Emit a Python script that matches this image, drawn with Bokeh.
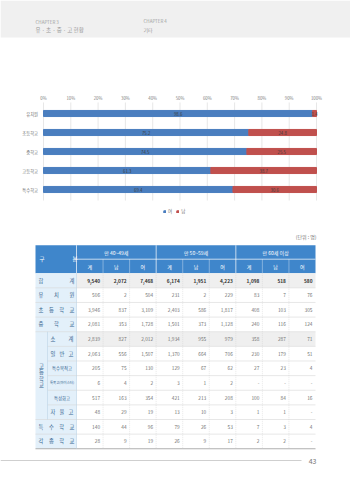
from bokeh.plotting import figure
from bokeh.models import Range1d, ColumnDataSource, Legend, LegendItem
from bokeh.embed import file_html
from bokeh.resources import INLINE
from bokeh.core.properties import value

FONT = "Noto Sans CJK KR"
BLUE = "#4a7ebf"
RED = "#c0504d"
HEAD_BLUE = "#3f86cb"
LABEL_BG = "#e3f0fa"
GRAY_ROW = "#efefef"
LABEL_COLOR = "#35658f"
NUM_COLOR = "#707070"

# ---------------- chart data ----------------
school_types = ["유치원", "초등학교", "중학교", "고등학교", "특수학교"]
female_share = [98.6, 75.2, 74.5, 61.3, 69.4]
male_share = [1.4, 24.8, 25.5, 38.7, 30.6]
x_ticks = [0, 10, 20, 30, 40, 50, 60, 70, 80, 90, 100]
legend_labels = ["여", "남"]

# ---------------- table data ----------------
age_groups = ["만 40~49세", "만 50~59세", "만 60세 이상"]
sex_headers = ["계", "남", "여"]
row_labels = ["합계", "유치원", "초등학교", "중학교", "소계", "일반고", "특수목적고",
              "특목고(마이스터)", "특성화고", "자율고", "특수학교", "각종학교"]
total_row = [9540, 2072, 7468, 6174, 1951, 4223, 1098, 518, 580]
kinder_row = [506, 2, 504, 231, 2, 229, 83, 7, 76]
elem_row = [3946, 837, 3109, 2403, 586, 1817, 408, 103, 305]
middle_row = [2081, 353, 1728, 1501, 373, 1128, 240, 116, 124]
high_sub_row = [2839, 827, 2012, 1934, 955, 979, 358, 287, 71]
general_row = [2063, 556, 1507, 1370, 664, 706, 230, 179, 51]
special_purpose_row = [205, 75, 130, 129, 67, 62, 27, 23, 4]
meister_row = [6, 4, 2, 3, 1, 2, 0, 0, 0]
vocational_row = [517, 163, 354, 421, 213, 208, 100, 84, 16]
autonomous_row = [48, 29, 19, 13, 10, 3, 1, 1, 0]
special_row = [140, 44, 96, 79, 26, 53, 7, 3, 4]
misc_row = [28, 9, 19, 26, 9, 17, 2, 2, 0]
table_rows = [total_row, kinder_row, elem_row, middle_row, high_sub_row, general_row,
              special_purpose_row, meister_row, vocational_row, autonomous_row,
              special_row, misc_row]
high_group_label = "고등학교"
unit_label = "(단위 : 명)"
page_number = "43"

W, H = 350, 480
p = figure(width=W, height=H, x_range=Range1d(0, W), y_range=Range1d(H, 0),
           output_backend="svg", toolbar_location=None)
p.axis.visible = False
p.grid.visible = False
p.outline_line_color = None
p.min_border = 0

# chart scales: percent on x, category index on y
PX0, PX100 = 43.0, 316.0
CAT0, CAT_STEP = 113.0, 19.0
ppu = (PX100 - PX0) / 100.0
p.extra_x_ranges = {"pct": Range1d(-PX0 / ppu, (W - PX0) / ppu)}
p.extra_y_ranges = {"cat": Range1d((H - CAT0) / CAT_STEP, -CAT0 / CAT_STEP)}


def txt(x, y, t, size="5px", color="#555", align="center", baseline="middle", style="normal", **kw):
    p.text(x=x, y=y, text=t, text_font=value(FONT), text_font_size=size, text_color=color,
           text_align=align, text_baseline=baseline, text_font_style=style, **kw)


# ---------------- header ----------------
p.quad(left=[0], right=[W], top=[0], bottom=[37], fill_color="#f0f0f0", line_color=None)
txt([35], [21], ["CHAPTER 3"], size="4.5px", color="#a0a0a0", align="left")
txt([35], [29.5], ["유 · 초 · 중 · 고 현황"], size="5.5px", color="#9a9a9a", align="left")
txt([143], [20.5], ["CHAPTER 4"], size="4.5px", color="#a0a0a0", align="left")
txt([143], [28.5], ["기타"], size="5px", color="#9a9a9a", align="left")

# ---------------- chart ----------------
idx = list(range(len(school_types)))
src = ColumnDataSource(dict(
    idx=idx, cat=school_types, f=female_share, m=male_share,
    f_mid=[v / 2 for v in female_share],
    m_mid=[f + m / 2 for f, m in zip(female_share, male_share)],
    f_lab=[f"{v:.1f}" for v in female_share],
    m_lab=[f"{v:.1f}" for v in male_share],
))
grid_top, grid_bot = -0.58, len(school_types) - 1 + 0.58
p.segment(x0=x_ticks, y0=[grid_top] * len(x_ticks), x1=x_ticks, y1=[grid_bot] * len(x_ticks),
          line_color="#dcdcdc", line_width=0.7, x_range_name="pct", y_range_name="cat")
rs = p.hbar_stack(["f", "m"], y="idx", height=0.32, color=[BLUE, RED], source=src,
                  x_range_name="pct", y_range_name="cat")
txt("f_mid", "idx", "f_lab", size="4.3px", color="#3a3a3a", source=src,
    x_range_name="pct", y_range_name="cat")
txt("m_mid", "idx", "m_lab", size="4.3px", color="#3a3a3a", source=src,
    x_range_name="pct", y_range_name="cat")
txt(x_ticks, [grid_top - 0.22] * len(x_ticks), [f"{t}%" for t in x_ticks], size="4.3px",
    color="#808080", x_range_name="pct", y_range_name="cat")
txt([-2.0] * len(idx), idx, school_types, size="4.3px", color="#707070", align="right",
    x_range_name="pct", y_range_name="cat")
legend = Legend(items=[LegendItem(label=legend_labels[0], renderers=[rs[0]]),
                       LegendItem(label=legend_labels[1], renderers=[rs[1]])],
                orientation="horizontal", location=(163, H - 214), label_text_font_size="4.5px",
                label_text_font=FONT, label_text_color="#707070",
                glyph_width=3, glyph_height=3, label_height=5, label_width=4,
                label_standoff=2, spacing=4, padding=1, margin=0,
                border_line_color=None, background_fill_alpha=0)
p.add_layout(legend, "center")

# ---------------- table ----------------
OY = 225.0
left, lab_r, right = 35.0, 76.0, 315.0
strip_r = 47.0
ncol = len(age_groups) * len(sex_headers)
col_w = (right - lab_r) / ncol
top = OY + 19.7
hh = 14.0
rh = 14.63
body_top = top + 2 * hh
nrow = len(table_rows)
body_bot = body_top + nrow * rh
row_y = [body_top + rh * (i + 0.5) for i in range(nrow)]
high_rows = list(range(4, 10))

txt([right + 1], [OY + 11], [unit_label], size="5px", color="#707070", align="right")

p.quad(left=[left], right=[right], top=[top], bottom=[body_top], fill_color=HEAD_BLUE, line_color=None)
gb = [lab_r + col_w * 3 * g for g in range(3)]
p.segment(x0=gb, y0=[top] * 3, x1=gb, y1=[body_top] * 3, line_color="white", line_width=0.7)
p.segment(x0=[lab_r], y0=[top + hh], x1=[right], y1=[top + hh], line_color="white", line_width=0.7)
sub_b = [lab_r + col_w * k for k in range(1, ncol) if k % 3 != 0]
p.segment(x0=sub_b, y0=[top + hh] * len(sub_b), x1=sub_b, y1=[body_top] * len(sub_b),
          line_color="white", line_width=0.5, line_alpha=0.7)
txt([lab_r + col_w * (3 * g + 1.5) for g in range(3)], [top + hh / 2] * 3, age_groups,
    size="5px", color="white")
col_x = [lab_r + col_w * (k + 0.5) for k in range(ncol)]
txt(col_x, [top + 1.5 * hh] * ncol, sex_headers * 3, size="5px", color="white")
txt([39, 72], [top + hh] * 2, ["구", "분"], size="5.5px", color="white", align="left")

p.quad(left=[left], right=[lab_r], top=[body_top], bottom=[body_bot], fill_color=LABEL_BG, line_color=None)
for i in (0, 4):
    p.quad(left=[lab_r], right=[right], top=[body_top + i * rh], bottom=[body_top + (i + 1) * rh],
           fill_color=GRAY_ROW, line_color=None)

for i in range(1, nrow):
    y = body_top + i * rh
    x0 = strip_r if (i in high_rows and i - 1 in high_rows) else left
    p.segment(x0=[x0], y0=[y], x1=[right], y1=[y], line_color="#d6d6d6", line_width=0.6)
p.segment(x0=[left], y0=[body_bot], x1=[right], y1=[body_bot], line_color="#9a9a9a", line_width=0.8)
vb = [lab_r + col_w * k for k in range(1, ncol)]
p.segment(x0=vb, y0=[body_top] * len(vb), x1=vb, y1=[body_bot] * len(vb),
          line_color="#d0d0d0", line_width=0.5, line_dash="1 1")
p.segment(x0=[lab_r], y0=[body_top], x1=[lab_r], y1=[body_bot], line_color="#bcd3e6", line_width=0.6)
hs_top = body_top + high_rows[0] * rh
hs_bot = body_top + (high_rows[-1] + 1) * rh
p.segment(x0=[strip_r], y0=[hs_top], x1=[strip_r], y1=[hs_bot], line_color="#bcd3e6", line_width=0.6)


def spread(label, x0, x1, y, size="5.3px"):
    chars = list(label)
    n = len(chars)
    xs = [(x0 + x1) / 2] if n == 1 else [x0 + (x1 - x0) * k / (n - 1) for k in range(n)]
    txt(xs, [y] * n, chars, size=size, color=LABEL_COLOR)


for i, lab in enumerate(row_labels):
    y = row_y[i]
    if i in high_rows:
        if len(lab) <= 3:
            spread(lab, 52.5, 70.5, y)
        else:
            fs = "4.4px" if len(lab) <= 5 else "3.4px"
            txt([(strip_r + lab_r) / 2], [y], [lab], size=fs, color=LABEL_COLOR)
    else:
        spread(lab, 40.5, 71.5, y)

gc = (hs_top + hs_bot) / 2
chars = list(high_group_label)
txt([41] * len(chars), [gc + 6.5 * (k - 1.5) for k in range(len(chars))], chars,
    size="5.3px", color=LABEL_COLOR)

for i, vals in enumerate(table_rows):
    strs = ["-" if v == 0 else f"{v:,}" for v in vals]
    bold = i == 0
    txt([lab_r + col_w * (k + 1) - 3 for k in range(ncol)], [row_y[i]] * ncol, strs,
        size="4.8px", color="#333333" if bold else NUM_COLOR, align="right",
        style="bold" if bold else "normal")

# footer
p.segment(x0=[0], y0=[460], x1=[301], y1=[460], line_color="#cfcfcf", line_width=1)
txt([316], [460.5], [page_number], size="7px", color="#777777", align="right")

open("out.html", "w").write(file_html(p, INLINE))
